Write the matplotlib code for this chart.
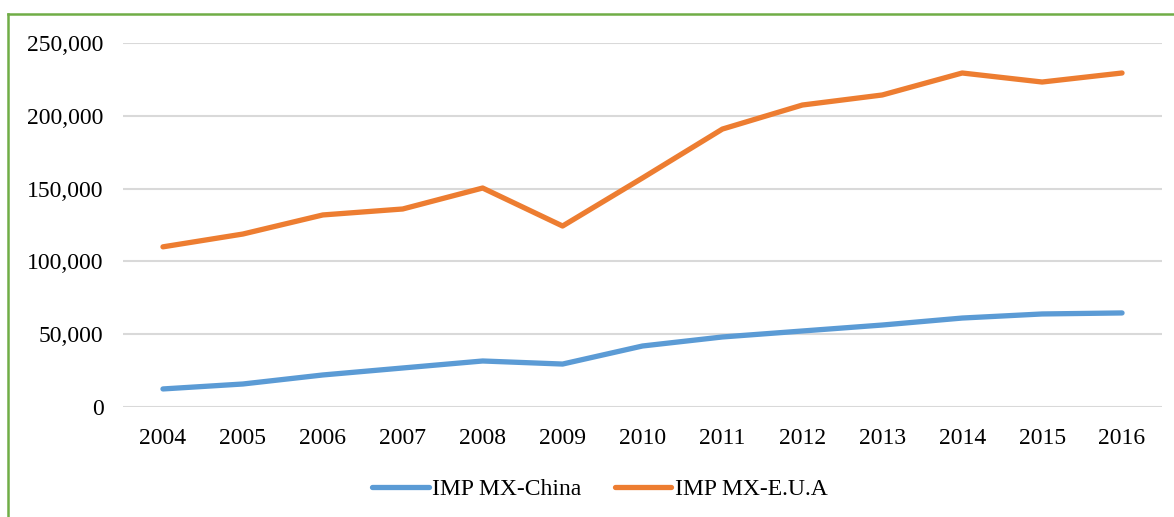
import matplotlib.pyplot as plt
from matplotlib.lines import Line2D
from matplotlib.ticker import FuncFormatter

years = ['2004', '2005', '2006', '2007', '2008', '2009', '2010',
         '2011', '2012', '2013', '2014', '2015', '2016']
imp_china = [12400, 15800, 22000, 26800, 31600, 29500, 41900,
             48100, 52200, 56300, 61100, 63900, 64600]
imp_eua = [110000, 118800, 131900, 136000, 150400, 124300, 157300,
           190900, 207400, 214300, 229400, 223200, 229400]

plt.rcParams['font.family'] = ['Liberation Serif', 'DejaVu Serif']

fig = plt.figure(figsize=(11.74, 5.17), dpi=100)
ax = fig.add_axes([123 / 1174, 1 - 407 / 517, (1162 - 123) / 1174, (407 - 43) / 517])

x = list(range(len(years)))
ax.plot(x, imp_china, color='#5b9bd5', lw=3.8, solid_capstyle='round',
        label='IMP MX-China')
ax.plot(x, imp_eua, color='#ed7d31', lw=3.8, solid_capstyle='round',
        label='IMP MX-E.U.A')

ax.set_xlim(-0.5, len(years) - 0.5)
ax.set_ylim(0, 250000)
ax.set_yticks(range(0, 250001, 50000))
ax.yaxis.set_major_formatter(FuncFormatter(lambda v, p: f'{int(v):,}'))
ax.set_xticks(x)
ax.set_xticklabels(years)
ax.grid(axis='y', color='#d9d9d9', lw=1.5)
ax.set_axisbelow(True)
for s in ax.spines.values():
    s.set_visible(False)
ax.tick_params(length=0, labelsize=17, colors='black')
ax.tick_params(axis='y', pad=14)
ax.tick_params(axis='x', pad=15)

fig.legend(loc='center', bbox_to_anchor=(0.511, 1 - 489 / 517), ncol=2,
           frameon=False, fontsize=17, handlelength=2.4, handletextpad=0.15,
           columnspacing=1.4)

# green border around chart area
green = '#70ad47'
fig.add_artist(Line2D([8 / 1174, 8 / 1174], [0, 1 - 14 / 517], color=green, lw=1.8,
                      transform=fig.transFigure))
fig.add_artist(Line2D([8 / 1174, 1], [1 - 14 / 517, 1 - 14 / 517], color=green, lw=1.8,
                      transform=fig.transFigure))

fig.savefig('out.png', dpi=100)
